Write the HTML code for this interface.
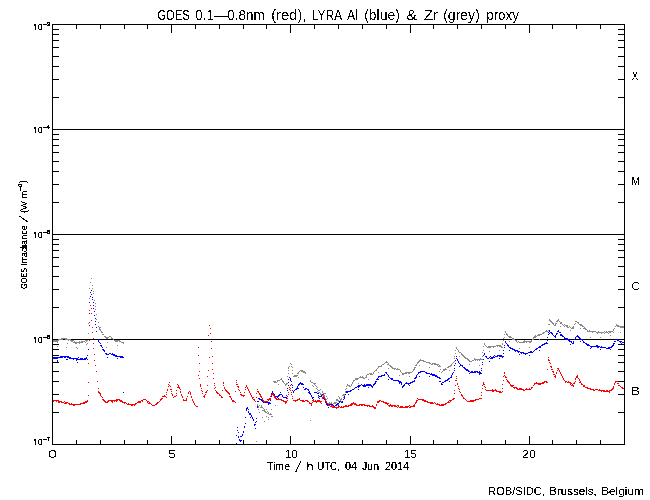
<!DOCTYPE html>
<html><head><meta charset="utf-8"><style>
html,body{margin:0;padding:0;background:#fff;}
svg{display:block;}
text{font-family:"Liberation Sans",sans-serif;fill:#000;}
</style></head><body>
<svg width="650" height="500" viewBox="0 0 650 500" shape-rendering="crispEdges">
<rect x="52" y="24" width="573" height="1" fill="#000"/>
<rect x="52" y="444" width="573" height="1" fill="#000"/>
<rect x="52" y="24" width="1" height="421" fill="#000"/>
<rect x="624" y="24" width="1" height="421" fill="#000"/>
<rect x="52" y="129" width="573" height="1" fill="#000"/>
<rect x="52" y="234" width="573" height="1" fill="#000"/>
<rect x="52" y="339" width="573" height="1" fill="#000"/>
<rect x="52" y="412" width="7" height="1" fill="#000"/>
<rect x="618" y="412" width="7" height="1" fill="#000"/>
<rect x="52" y="394" width="7" height="1" fill="#000"/>
<rect x="618" y="394" width="7" height="1" fill="#000"/>
<rect x="52" y="381" width="7" height="1" fill="#000"/>
<rect x="618" y="381" width="7" height="1" fill="#000"/>
<rect x="52" y="371" width="7" height="1" fill="#000"/>
<rect x="618" y="371" width="7" height="1" fill="#000"/>
<rect x="52" y="362" width="7" height="1" fill="#000"/>
<rect x="618" y="362" width="7" height="1" fill="#000"/>
<rect x="52" y="355" width="7" height="1" fill="#000"/>
<rect x="618" y="355" width="7" height="1" fill="#000"/>
<rect x="52" y="349" width="7" height="1" fill="#000"/>
<rect x="618" y="349" width="7" height="1" fill="#000"/>
<rect x="52" y="344" width="7" height="1" fill="#000"/>
<rect x="618" y="344" width="7" height="1" fill="#000"/>
<rect x="52" y="307" width="7" height="1" fill="#000"/>
<rect x="618" y="307" width="7" height="1" fill="#000"/>
<rect x="52" y="289" width="7" height="1" fill="#000"/>
<rect x="618" y="289" width="7" height="1" fill="#000"/>
<rect x="52" y="276" width="7" height="1" fill="#000"/>
<rect x="618" y="276" width="7" height="1" fill="#000"/>
<rect x="52" y="266" width="7" height="1" fill="#000"/>
<rect x="618" y="266" width="7" height="1" fill="#000"/>
<rect x="52" y="257" width="7" height="1" fill="#000"/>
<rect x="618" y="257" width="7" height="1" fill="#000"/>
<rect x="52" y="250" width="7" height="1" fill="#000"/>
<rect x="618" y="250" width="7" height="1" fill="#000"/>
<rect x="52" y="244" width="7" height="1" fill="#000"/>
<rect x="618" y="244" width="7" height="1" fill="#000"/>
<rect x="52" y="239" width="7" height="1" fill="#000"/>
<rect x="618" y="239" width="7" height="1" fill="#000"/>
<rect x="52" y="202" width="7" height="1" fill="#000"/>
<rect x="618" y="202" width="7" height="1" fill="#000"/>
<rect x="52" y="184" width="7" height="1" fill="#000"/>
<rect x="618" y="184" width="7" height="1" fill="#000"/>
<rect x="52" y="171" width="7" height="1" fill="#000"/>
<rect x="618" y="171" width="7" height="1" fill="#000"/>
<rect x="52" y="161" width="7" height="1" fill="#000"/>
<rect x="618" y="161" width="7" height="1" fill="#000"/>
<rect x="52" y="152" width="7" height="1" fill="#000"/>
<rect x="618" y="152" width="7" height="1" fill="#000"/>
<rect x="52" y="145" width="7" height="1" fill="#000"/>
<rect x="618" y="145" width="7" height="1" fill="#000"/>
<rect x="52" y="139" width="7" height="1" fill="#000"/>
<rect x="618" y="139" width="7" height="1" fill="#000"/>
<rect x="52" y="134" width="7" height="1" fill="#000"/>
<rect x="618" y="134" width="7" height="1" fill="#000"/>
<rect x="52" y="97" width="7" height="1" fill="#000"/>
<rect x="618" y="97" width="7" height="1" fill="#000"/>
<rect x="52" y="79" width="7" height="1" fill="#000"/>
<rect x="618" y="79" width="7" height="1" fill="#000"/>
<rect x="52" y="66" width="7" height="1" fill="#000"/>
<rect x="618" y="66" width="7" height="1" fill="#000"/>
<rect x="52" y="56" width="7" height="1" fill="#000"/>
<rect x="618" y="56" width="7" height="1" fill="#000"/>
<rect x="52" y="47" width="7" height="1" fill="#000"/>
<rect x="618" y="47" width="7" height="1" fill="#000"/>
<rect x="52" y="40" width="7" height="1" fill="#000"/>
<rect x="618" y="40" width="7" height="1" fill="#000"/>
<rect x="52" y="34" width="7" height="1" fill="#000"/>
<rect x="618" y="34" width="7" height="1" fill="#000"/>
<rect x="52" y="29" width="7" height="1" fill="#000"/>
<rect x="618" y="29" width="7" height="1" fill="#000"/>
<rect x="52" y="436" width="1" height="9" fill="#000"/>
<rect x="52" y="24" width="1" height="9" fill="#000"/>
<rect x="76" y="440" width="1" height="5" fill="#000"/>
<rect x="76" y="24" width="1" height="5" fill="#000"/>
<rect x="100" y="440" width="1" height="5" fill="#000"/>
<rect x="100" y="24" width="1" height="5" fill="#000"/>
<rect x="124" y="440" width="1" height="5" fill="#000"/>
<rect x="124" y="24" width="1" height="5" fill="#000"/>
<rect x="147" y="440" width="1" height="5" fill="#000"/>
<rect x="147" y="24" width="1" height="5" fill="#000"/>
<rect x="171" y="436" width="1" height="9" fill="#000"/>
<rect x="171" y="24" width="1" height="9" fill="#000"/>
<rect x="195" y="440" width="1" height="5" fill="#000"/>
<rect x="195" y="24" width="1" height="5" fill="#000"/>
<rect x="219" y="440" width="1" height="5" fill="#000"/>
<rect x="219" y="24" width="1" height="5" fill="#000"/>
<rect x="243" y="440" width="1" height="5" fill="#000"/>
<rect x="243" y="24" width="1" height="5" fill="#000"/>
<rect x="266" y="440" width="1" height="5" fill="#000"/>
<rect x="266" y="24" width="1" height="5" fill="#000"/>
<rect x="290" y="436" width="1" height="9" fill="#000"/>
<rect x="290" y="24" width="1" height="9" fill="#000"/>
<rect x="314" y="440" width="1" height="5" fill="#000"/>
<rect x="314" y="24" width="1" height="5" fill="#000"/>
<rect x="338" y="440" width="1" height="5" fill="#000"/>
<rect x="338" y="24" width="1" height="5" fill="#000"/>
<rect x="362" y="440" width="1" height="5" fill="#000"/>
<rect x="362" y="24" width="1" height="5" fill="#000"/>
<rect x="386" y="440" width="1" height="5" fill="#000"/>
<rect x="386" y="24" width="1" height="5" fill="#000"/>
<rect x="410" y="436" width="1" height="9" fill="#000"/>
<rect x="410" y="24" width="1" height="9" fill="#000"/>
<rect x="433" y="440" width="1" height="5" fill="#000"/>
<rect x="433" y="24" width="1" height="5" fill="#000"/>
<rect x="457" y="440" width="1" height="5" fill="#000"/>
<rect x="457" y="24" width="1" height="5" fill="#000"/>
<rect x="481" y="440" width="1" height="5" fill="#000"/>
<rect x="481" y="24" width="1" height="5" fill="#000"/>
<rect x="505" y="440" width="1" height="5" fill="#000"/>
<rect x="505" y="24" width="1" height="5" fill="#000"/>
<rect x="529" y="436" width="1" height="9" fill="#000"/>
<rect x="529" y="24" width="1" height="9" fill="#000"/>
<rect x="552" y="440" width="1" height="5" fill="#000"/>
<rect x="552" y="24" width="1" height="5" fill="#000"/>
<rect x="576" y="440" width="1" height="5" fill="#000"/>
<rect x="576" y="24" width="1" height="5" fill="#000"/>
<rect x="600" y="440" width="1" height="5" fill="#000"/>
<rect x="600" y="24" width="1" height="5" fill="#000"/>
<rect x="624" y="440" width="1" height="5" fill="#000"/>
<rect x="624" y="24" width="1" height="5" fill="#000"/>
<defs><filter id="crispA" x="0" y="0" width="650" height="500" filterUnits="userSpaceOnUse"><feComponentTransfer><feFuncA type="discrete" tableValues="0 1"/></feComponentTransfer></filter><filter id="crispB" x="0" y="0" width="650" height="500" filterUnits="userSpaceOnUse"><feComponentTransfer><feFuncA type="discrete" tableValues="0 0 1 1 1"/></feComponentTransfer></filter></defs>
<g filter="url(#crispA)"><text transform="translate(0,20) scale(1,1.31)" x="157.20" y="0" font-size="11" textLength="32.60" lengthAdjust="spacingAndGlyphs">GOES</text>
<text transform="translate(0,20) scale(1,1.31)" x="195.20" y="0" font-size="11" textLength="69.60" lengthAdjust="spacingAndGlyphs">0.1—0.8nm</text>
<text transform="translate(0,20) scale(1,1.31)" x="271.20" y="0" font-size="11" textLength="35.40" lengthAdjust="spacingAndGlyphs">(red),</text>
<text transform="translate(0,20) scale(1,1.31)" x="312.20" y="0" font-size="11" textLength="29.80" lengthAdjust="spacingAndGlyphs">LYRA</text>
<text transform="translate(0,20) scale(1,1.31)" x="347.00" y="0" font-size="11" textLength="10.80" lengthAdjust="spacingAndGlyphs">Al</text>
<text transform="translate(0,20) scale(1,1.31)" x="364.20" y="0" font-size="11" textLength="35.60" lengthAdjust="spacingAndGlyphs">(blue)</text>
<text transform="translate(0,20) scale(1,1.31)" x="406.20" y="0" font-size="11" textLength="10.80" lengthAdjust="spacingAndGlyphs">&amp;</text>
<text transform="translate(0,20) scale(1,1.31)" x="424.00" y="0" font-size="11" textLength="14.00" lengthAdjust="spacingAndGlyphs">Zr</text>
<text transform="translate(0,20) scale(1,1.31)" x="443.20" y="0" font-size="11" textLength="36.60" lengthAdjust="spacingAndGlyphs">(grey)</text>
<text transform="translate(0,20) scale(1,1.31)" x="486.20" y="0" font-size="11" textLength="32.80" lengthAdjust="spacingAndGlyphs">proxy</text>
<text x="48.20" y="458" font-size="10" textLength="8.60" lengthAdjust="spacingAndGlyphs">0</text>
<text x="168.20" y="458" font-size="10" textLength="7.60" lengthAdjust="spacingAndGlyphs">5</text>
<text x="285.20" y="458" font-size="10" textLength="12.60" lengthAdjust="spacingAndGlyphs">10</text>
<text x="404.20" y="458" font-size="10" textLength="12.60" lengthAdjust="spacingAndGlyphs">15</text>
<text x="522.20" y="458" font-size="10" textLength="13.60" lengthAdjust="spacingAndGlyphs">20</text>
<text x="632.00" y="80" font-size="11.5" textLength="6.00" lengthAdjust="spacingAndGlyphs">X</text>
<text x="631.20" y="185" font-size="11.5" textLength="8.60" lengthAdjust="spacingAndGlyphs">M</text>
<text x="631.20" y="290" font-size="11.5" textLength="8.60" lengthAdjust="spacingAndGlyphs">C</text>
<text x="631.20" y="395" font-size="11.5" textLength="8.60" lengthAdjust="spacingAndGlyphs">B</text></g>
<g filter="url(#crispB)"><text x="267.00" y="470" font-size="10" textLength="23.00" lengthAdjust="spacingAndGlyphs">Time</text>
<text x="306.20" y="470" font-size="10" textLength="7.60" lengthAdjust="spacingAndGlyphs">h</text>
<text x="317.20" y="470" font-size="10" textLength="22.60" lengthAdjust="spacingAndGlyphs">UTC,</text>
<text x="345.00" y="470" font-size="10" textLength="12.00" lengthAdjust="spacingAndGlyphs">04</text>
<text x="362.00" y="470" font-size="10" textLength="17.00" lengthAdjust="spacingAndGlyphs">Jun</text>
<text x="385.00" y="470" font-size="10" textLength="24.00" lengthAdjust="spacingAndGlyphs">2014</text>
<text x="488.20" y="495" font-size="10.5" textLength="56.60" lengthAdjust="spacingAndGlyphs">ROB/SIDC,</text>
<text x="549.20" y="495" font-size="10.5" textLength="47.60" lengthAdjust="spacingAndGlyphs">Brussels,</text>
<text x="601.20" y="495" font-size="10.5" textLength="42.60" lengthAdjust="spacingAndGlyphs">Belgium</text>
<text transform="translate(27,289.00) rotate(-90)" x="0" y="0" font-size="9.5" textLength="21.00" lengthAdjust="spacingAndGlyphs">GOES</text>
<text transform="translate(27,265.80) rotate(-90)" x="0" y="0" font-size="9.5" textLength="40.60" lengthAdjust="spacingAndGlyphs">Irradiance</text>
<text transform="translate(27,213.00) rotate(-90)" x="0" y="0" font-size="9.5" textLength="11.80" lengthAdjust="spacingAndGlyphs">(W</text>
<text transform="translate(27,198.00) rotate(-90)" x="0" y="0" font-size="9.5" textLength="7.00" lengthAdjust="spacingAndGlyphs">m</text><line x1="295.5" y1="472.5" x2="300.8" y2="461" stroke="#000" stroke-width="1"/>
<line x1="19.5" y1="216" x2="27.5" y2="221.8" stroke="#000" stroke-width="1"/>
</g>
<path fill="#000" shape-rendering="crispEdges" d="M34 24h1v1h-1zM35 24h1v1h-1zM39 24h1v1h-1zM40 24h1v1h-1zM41 24h1v1h-1zM34 25h1v1h-1zM35 25h1v1h-1zM38 25h1v1h-1zM41 25h1v1h-1zM35 26h1v1h-1zM38 26h1v1h-1zM41 26h1v1h-1zM35 27h1v1h-1zM38 27h1v1h-1zM41 27h1v1h-1zM35 28h1v1h-1zM38 28h1v1h-1zM41 28h1v1h-1zM35 29h1v1h-1zM39 29h1v1h-1zM40 29h1v1h-1zM41 29h1v1h-1zM43 24h4v1h-4zM47 22h1v1h-1zM48 22h1v1h-1zM49 22h1v1h-1zM47 23h1v1h-1zM49 23h1v1h-1zM48 24h1v1h-1zM49 24h1v1h-1zM47 25h1v1h-1zM48 25h1v1h-1zM49 25h1v1h-1zM34 127h1v1h-1zM35 127h1v1h-1zM39 127h1v1h-1zM40 127h1v1h-1zM41 127h1v1h-1zM34 128h1v1h-1zM35 128h1v1h-1zM38 128h1v1h-1zM41 128h1v1h-1zM35 129h1v1h-1zM38 129h1v1h-1zM41 129h1v1h-1zM35 130h1v1h-1zM38 130h1v1h-1zM41 130h1v1h-1zM35 131h1v1h-1zM38 131h1v1h-1zM41 131h1v1h-1zM35 132h1v1h-1zM39 132h1v1h-1zM40 132h1v1h-1zM41 132h1v1h-1zM43 127h4v1h-4zM48 125h1v1h-1zM47 126h1v1h-1zM48 126h1v1h-1zM47 127h1v1h-1zM48 127h1v1h-1zM49 127h1v1h-1zM48 128h1v1h-1zM34 232h1v1h-1zM35 232h1v1h-1zM39 232h1v1h-1zM40 232h1v1h-1zM41 232h1v1h-1zM34 233h1v1h-1zM35 233h1v1h-1zM38 233h1v1h-1zM41 233h1v1h-1zM35 234h1v1h-1zM38 234h1v1h-1zM41 234h1v1h-1zM35 235h1v1h-1zM38 235h1v1h-1zM41 235h1v1h-1zM35 236h1v1h-1zM38 236h1v1h-1zM41 236h1v1h-1zM35 237h1v1h-1zM39 237h1v1h-1zM40 237h1v1h-1zM41 237h1v1h-1zM43 232h4v1h-4zM47 230h1v1h-1zM48 230h1v1h-1zM49 230h1v1h-1zM47 231h1v1h-1zM48 231h1v1h-1zM49 231h1v1h-1zM47 232h1v1h-1zM49 232h1v1h-1zM47 233h1v1h-1zM48 233h1v1h-1zM49 233h1v1h-1zM34 337h1v1h-1zM35 337h1v1h-1zM39 337h1v1h-1zM40 337h1v1h-1zM41 337h1v1h-1zM34 338h1v1h-1zM35 338h1v1h-1zM38 338h1v1h-1zM41 338h1v1h-1zM35 339h1v1h-1zM38 339h1v1h-1zM41 339h1v1h-1zM35 340h1v1h-1zM38 340h1v1h-1zM41 340h1v1h-1zM35 341h1v1h-1zM38 341h1v1h-1zM41 341h1v1h-1zM35 342h1v1h-1zM39 342h1v1h-1zM40 342h1v1h-1zM41 342h1v1h-1zM43 337h4v1h-4zM47 335h1v1h-1zM48 335h1v1h-1zM49 335h1v1h-1zM47 336h1v1h-1zM48 336h1v1h-1zM49 336h1v1h-1zM47 337h1v1h-1zM49 337h1v1h-1zM47 338h1v1h-1zM48 338h1v1h-1zM49 338h1v1h-1zM34 439h1v1h-1zM35 439h1v1h-1zM39 439h1v1h-1zM40 439h1v1h-1zM41 439h1v1h-1zM34 440h1v1h-1zM35 440h1v1h-1zM38 440h1v1h-1zM41 440h1v1h-1zM35 441h1v1h-1zM38 441h1v1h-1zM41 441h1v1h-1zM35 442h1v1h-1zM38 442h1v1h-1zM41 442h1v1h-1zM35 443h1v1h-1zM38 443h1v1h-1zM41 443h1v1h-1zM35 444h1v1h-1zM39 444h1v1h-1zM40 444h1v1h-1zM41 444h1v1h-1zM43 439h4v1h-4zM47 437h1v1h-1zM48 437h1v1h-1zM49 437h1v1h-1zM48 438h1v1h-1zM48 439h1v1h-1zM48 440h1v1h-1zM19 182h1v1h-1zM20 181h1v1h-1zM21 181h1v1h-1zM22 181h1v1h-1zM23 181h1v1h-1zM24 181h1v1h-1zM25 181h1v1h-1zM26 181h1v1h-1zM27 182h1v1h-1zM18 184h1v1h-1zM19 184h1v1h-1zM20 184h1v1h-1zM21 184h1v1h-1zM18 185h1v1h-1zM21 185h1v1h-1zM19 186h1v1h-1zM20 186h1v1h-1zM21 186h1v1h-1zM20 187h1v1h-1zM20 188h1v1h-1zM20 189h1v1h-1zM20 190h1v1h-1z"/>
<g shape-rendering="crispEdges" stroke="none">
<path fill="#888" d="M53 340h1v1h-1zM53 341h1v1h-1zM54 340h1v1h-1zM54 341h1v1h-1zM55 340h1v1h-1zM55 341h1v1h-1zM56 340h1v1h-1zM56 341h1v1h-1zM57 340h1v1h-1zM57 341h1v1h-1zM57 342h1v1h-1zM57 346h1v1h-1zM58 339h1v1h-1zM58 340h1v1h-1zM59 339h1v1h-1zM60 339h1v1h-1zM61 338h1v1h-1zM61 339h1v1h-1zM62 338h1v1h-1zM62 339h1v1h-1zM63 338h1v1h-1zM64 338h1v1h-1zM65 338h1v1h-1zM65 339h1v1h-1zM66 338h1v1h-1zM66 339h1v1h-1zM66 347h1v1h-1zM67 339h1v1h-1zM67 343h1v1h-1zM68 339h1v1h-1zM68 340h1v1h-1zM69 339h1v1h-1zM70 339h1v1h-1zM70 340h1v1h-1zM71 340h1v1h-1zM71 341h1v1h-1zM72 340h1v1h-1zM72 341h1v1h-1zM73 340h1v1h-1zM73 342h1v1h-1zM74 341h1v1h-1zM74 342h1v1h-1zM75 342h1v1h-1zM75 343h1v1h-1zM76 342h1v1h-1zM76 343h1v1h-1zM76 347h1v1h-1zM77 342h1v1h-1zM77 348h1v1h-1zM78 342h1v1h-1zM79 341h1v1h-1zM79 342h1v1h-1zM79 343h1v1h-1zM80 342h1v1h-1zM81 341h1v1h-1zM81 342h1v1h-1zM82 341h1v1h-1zM82 342h1v1h-1zM83 341h1v1h-1zM84 341h1v1h-1zM85 340h1v1h-1zM85 342h1v1h-1zM86 340h1v1h-1zM86 341h1v1h-1zM86 344h1v1h-1zM87 340h1v1h-1zM87 343h1v1h-1zM88 323h1v1h-1zM88 333h1v1h-1zM89 288h1v1h-1zM89 298h1v1h-1zM90 282h1v1h-1zM91 278h1v1h-1zM92 285h1v1h-1zM92 288h1v1h-1zM93 291h1v1h-1zM93 293h1v1h-1zM94 300h1v1h-1zM95 303h1v1h-1zM95 306h1v1h-1zM95 309h1v1h-1zM96 314h1v1h-1zM96 319h1v1h-1zM98 322h1v1h-1zM98 326h1v1h-1zM99 327h1v1h-1zM99 328h1v1h-1zM99 329h1v1h-1zM100 327h1v1h-1zM100 329h1v1h-1zM100 330h1v1h-1zM101 331h1v1h-1zM101 332h1v1h-1zM102 332h1v1h-1zM102 334h1v1h-1zM103 334h1v1h-1zM104 336h1v1h-1zM105 336h1v1h-1zM105 337h1v1h-1zM106 337h1v1h-1zM106 338h1v1h-1zM106 347h1v1h-1zM107 337h1v1h-1zM107 338h1v1h-1zM107 342h1v1h-1zM108 337h1v1h-1zM109 336h1v1h-1zM110 336h1v1h-1zM111 337h1v1h-1zM111 338h1v1h-1zM112 338h1v1h-1zM113 339h1v1h-1zM114 340h1v1h-1zM115 340h1v1h-1zM115 341h1v1h-1zM116 340h1v1h-1zM116 341h1v1h-1zM117 340h1v1h-1zM117 341h1v1h-1zM117 345h1v1h-1zM118 340h1v1h-1zM119 340h1v1h-1zM119 341h1v1h-1zM120 341h1v1h-1zM121 342h1v1h-1zM122 342h1v1h-1zM123 342h1v1h-1zM123 343h1v1h-1zM256 441h1v1h-1zM257 404h1v1h-1zM257 405h1v1h-1zM257 406h1v1h-1zM258 406h1v1h-1zM258 407h1v1h-1zM258 409h1v1h-1zM259 405h1v1h-1zM259 412h1v1h-1zM260 407h1v1h-1zM261 405h1v1h-1zM261 406h1v1h-1zM261 407h1v1h-1zM262 407h1v1h-1zM262 410h1v1h-1zM262 417h1v1h-1zM263 408h1v1h-1zM263 410h1v1h-1zM264 409h1v1h-1zM264 410h1v1h-1zM264 411h1v1h-1zM264 421h1v1h-1zM265 411h1v1h-1zM265 412h1v1h-1zM266 409h1v1h-1zM266 412h1v1h-1zM266 416h1v1h-1zM267 411h1v1h-1zM267 413h1v1h-1zM268 412h1v1h-1zM268 413h1v1h-1zM268 417h1v1h-1zM268 419h1v1h-1zM269 414h1v1h-1zM270 413h1v1h-1zM270 414h1v1h-1zM271 409h1v1h-1zM271 414h1v1h-1zM271 416h1v1h-1zM272 416h1v1h-1zM273 381h1v1h-1zM274 381h1v1h-1zM274 382h1v1h-1zM275 381h1v1h-1zM275 382h1v1h-1zM275 405h1v1h-1zM276 382h1v1h-1zM277 380h1v1h-1zM277 381h1v1h-1zM278 380h1v1h-1zM278 384h1v1h-1zM279 380h1v1h-1zM280 379h1v1h-1zM281 378h1v1h-1zM281 379h1v1h-1zM282 380h1v1h-1zM282 381h1v1h-1zM283 381h1v1h-1zM283 382h1v1h-1zM284 383h1v1h-1zM285 384h1v1h-1zM285 385h1v1h-1zM286 383h1v1h-1zM286 384h1v1h-1zM287 376h1v1h-1zM287 383h1v1h-1zM288 367h1v1h-1zM288 368h1v1h-1zM288 370h1v1h-1zM288 373h1v1h-1zM289 366h1v1h-1zM290 363h1v1h-1zM291 364h1v1h-1zM291 366h1v1h-1zM292 367h1v1h-1zM292 370h1v1h-1zM292 373h1v1h-1zM293 376h1v1h-1zM294 375h1v1h-1zM294 376h1v1h-1zM295 375h1v1h-1zM295 376h1v1h-1zM296 375h1v1h-1zM296 376h1v1h-1zM297 373h1v1h-1zM297 375h1v1h-1zM298 372h1v1h-1zM298 373h1v1h-1zM298 377h1v1h-1zM299 371h1v1h-1zM300 370h1v1h-1zM301 370h1v1h-1zM301 371h1v1h-1zM302 370h1v1h-1zM302 371h1v1h-1zM303 371h1v1h-1zM303 372h1v1h-1zM304 371h1v1h-1zM304 372h1v1h-1zM305 372h1v1h-1zM305 373h1v1h-1zM310 380h1v1h-1zM310 381h1v1h-1zM310 420h1v1h-1zM311 382h1v1h-1zM312 382h1v1h-1zM312 385h1v1h-1zM313 383h1v1h-1zM313 386h1v1h-1zM314 383h1v1h-1zM314 384h1v1h-1zM315 383h1v1h-1zM315 385h1v1h-1zM316 386h1v1h-1zM316 388h1v1h-1zM317 387h1v1h-1zM317 389h1v1h-1zM317 391h1v1h-1zM318 390h1v1h-1zM318 392h1v1h-1zM318 396h1v1h-1zM319 390h1v1h-1zM319 392h1v1h-1zM320 389h1v1h-1zM320 393h1v1h-1zM320 394h1v1h-1zM321 394h1v1h-1zM322 391h1v1h-1zM322 392h1v1h-1zM322 395h1v1h-1zM323 393h1v1h-1zM323 395h1v1h-1zM324 393h1v1h-1zM324 395h1v1h-1zM324 396h1v1h-1zM325 393h1v1h-1zM325 398h1v1h-1zM326 396h1v1h-1zM326 399h1v1h-1zM327 398h1v1h-1zM327 403h1v1h-1zM328 403h1v1h-1zM328 404h1v1h-1zM328 407h1v1h-1zM329 402h1v1h-1zM329 403h1v1h-1zM330 403h1v1h-1zM331 402h1v1h-1zM331 403h1v1h-1zM331 406h1v1h-1zM332 404h1v1h-1zM332 406h1v1h-1zM333 403h1v1h-1zM333 406h1v1h-1zM334 402h1v1h-1zM334 403h1v1h-1zM334 406h1v1h-1zM335 402h1v1h-1zM335 403h1v1h-1zM336 399h1v1h-1zM336 400h1v1h-1zM336 402h1v1h-1zM337 399h1v1h-1zM337 400h1v1h-1zM338 396h1v1h-1zM338 400h1v1h-1zM338 401h1v1h-1zM338 404h1v1h-1zM339 397h1v1h-1zM339 398h1v1h-1zM340 399h1v1h-1zM340 400h1v1h-1zM341 398h1v1h-1zM341 399h1v1h-1zM341 401h1v1h-1zM342 395h1v1h-1zM343 394h1v1h-1zM343 395h1v1h-1zM343 397h1v1h-1zM344 394h1v1h-1zM344 395h1v1h-1zM345 389h1v1h-1zM345 391h1v1h-1zM345 392h1v1h-1zM346 386h1v1h-1zM346 388h1v1h-1zM347 384h1v1h-1zM347 385h1v1h-1zM348 385h1v1h-1zM348 391h1v1h-1zM349 385h1v1h-1zM349 386h1v1h-1zM350 386h1v1h-1zM351 384h1v1h-1zM351 385h1v1h-1zM352 382h1v1h-1zM352 383h1v1h-1zM353 380h1v1h-1zM353 381h1v1h-1zM354 380h1v1h-1zM355 378h1v1h-1zM355 379h1v1h-1zM356 378h1v1h-1zM356 379h1v1h-1zM357 378h1v1h-1zM357 379h1v1h-1zM358 378h1v1h-1zM358 383h1v1h-1zM359 377h1v1h-1zM360 376h1v1h-1zM360 377h1v1h-1zM361 377h1v1h-1zM362 376h1v1h-1zM362 377h1v1h-1zM363 377h1v1h-1zM363 378h1v1h-1zM364 378h1v1h-1zM365 377h1v1h-1zM366 375h1v1h-1zM366 376h1v1h-1zM366 377h1v1h-1zM367 374h1v1h-1zM368 374h1v1h-1zM368 379h1v1h-1zM369 373h1v1h-1zM370 373h1v1h-1zM370 374h1v1h-1zM371 373h1v1h-1zM371 374h1v1h-1zM372 374h1v1h-1zM373 372h1v1h-1zM373 373h1v1h-1zM374 371h1v1h-1zM375 370h1v1h-1zM376 369h1v1h-1zM376 370h1v1h-1zM377 368h1v1h-1zM378 366h1v1h-1zM378 367h1v1h-1zM378 372h1v1h-1zM379 366h1v1h-1zM380 366h1v1h-1zM381 365h1v1h-1zM381 366h1v1h-1zM382 364h1v1h-1zM383 364h1v1h-1zM384 363h1v1h-1zM385 362h1v1h-1zM386 361h1v1h-1zM386 362h1v1h-1zM387 362h1v1h-1zM387 364h1v1h-1zM388 363h1v1h-1zM388 364h1v1h-1zM388 368h1v1h-1zM389 365h1v1h-1zM390 365h1v1h-1zM390 366h1v1h-1zM391 366h1v1h-1zM391 367h1v1h-1zM392 367h1v1h-1zM392 368h1v1h-1zM393 368h1v1h-1zM394 368h1v1h-1zM394 369h1v1h-1zM395 368h1v1h-1zM396 369h1v1h-1zM397 368h1v1h-1zM397 369h1v1h-1zM398 369h1v1h-1zM399 369h1v1h-1zM399 375h1v1h-1zM400 370h1v1h-1zM400 371h1v1h-1zM401 372h1v1h-1zM402 373h1v1h-1zM402 374h1v1h-1zM403 373h1v1h-1zM403 374h1v1h-1zM404 373h1v1h-1zM405 372h1v1h-1zM405 373h1v1h-1zM406 372h1v1h-1zM406 373h1v1h-1zM407 372h1v1h-1zM408 372h1v1h-1zM408 373h1v1h-1zM409 372h1v1h-1zM409 373h1v1h-1zM409 376h1v1h-1zM410 372h1v1h-1zM411 372h1v1h-1zM412 371h1v1h-1zM413 369h1v1h-1zM413 370h1v1h-1zM414 367h1v1h-1zM414 368h1v1h-1zM414 369h1v1h-1zM415 365h1v1h-1zM415 367h1v1h-1zM416 364h1v1h-1zM416 365h1v1h-1zM417 362h1v1h-1zM417 363h1v1h-1zM418 361h1v1h-1zM418 362h1v1h-1zM419 360h1v1h-1zM419 361h1v1h-1zM419 365h1v1h-1zM420 359h1v1h-1zM420 360h1v1h-1zM421 360h1v1h-1zM422 360h1v1h-1zM423 360h1v1h-1zM423 361h1v1h-1zM424 361h1v1h-1zM425 361h1v1h-1zM426 362h1v1h-1zM427 362h1v1h-1zM428 362h1v1h-1zM429 362h1v1h-1zM429 363h1v1h-1zM429 367h1v1h-1zM430 363h1v1h-1zM431 364h1v1h-1zM432 363h1v1h-1zM432 364h1v1h-1zM433 363h1v1h-1zM434 363h1v1h-1zM434 364h1v1h-1zM435 363h1v1h-1zM435 364h1v1h-1zM436 364h1v1h-1zM437 364h1v1h-1zM437 365h1v1h-1zM438 364h1v1h-1zM438 366h1v1h-1zM439 365h1v1h-1zM439 366h1v1h-1zM439 371h1v1h-1zM440 366h1v1h-1zM440 369h1v1h-1zM441 372h1v1h-1zM442 371h1v1h-1zM443 369h1v1h-1zM443 370h1v1h-1zM444 369h1v1h-1zM444 370h1v1h-1zM445 368h1v1h-1zM445 369h1v1h-1zM446 369h1v1h-1zM447 367h1v1h-1zM448 366h1v1h-1zM448 367h1v1h-1zM449 366h1v1h-1zM449 370h1v1h-1zM450 365h1v1h-1zM450 366h1v1h-1zM451 364h1v1h-1zM451 365h1v1h-1zM452 363h1v1h-1zM453 362h1v1h-1zM454 356h1v1h-1zM454 358h1v1h-1zM454 361h1v1h-1zM455 350h1v1h-1zM455 353h1v1h-1zM456 347h1v1h-1zM456 348h1v1h-1zM457 349h1v1h-1zM458 350h1v1h-1zM458 351h1v1h-1zM459 352h1v1h-1zM459 356h1v1h-1zM460 352h1v1h-1zM461 353h1v1h-1zM461 354h1v1h-1zM462 354h1v1h-1zM462 355h1v1h-1zM463 355h1v1h-1zM463 356h1v1h-1zM464 356h1v1h-1zM464 357h1v1h-1zM465 357h1v1h-1zM465 358h1v1h-1zM466 358h1v1h-1zM467 358h1v1h-1zM467 359h1v1h-1zM468 359h1v1h-1zM468 360h1v1h-1zM469 360h1v1h-1zM469 361h1v1h-1zM469 364h1v1h-1zM470 361h1v1h-1zM471 361h1v1h-1zM472 360h1v1h-1zM473 360h1v1h-1zM474 358h1v1h-1zM474 359h1v1h-1zM475 359h1v1h-1zM475 360h1v1h-1zM476 359h1v1h-1zM477 359h1v1h-1zM477 360h1v1h-1zM478 359h1v1h-1zM479 359h1v1h-1zM479 360h1v1h-1zM479 365h1v1h-1zM480 358h1v1h-1zM480 359h1v1h-1zM481 359h1v1h-1zM482 352h1v1h-1zM482 356h1v1h-1zM482 359h1v1h-1zM483 346h1v1h-1zM483 350h1v1h-1zM484 343h1v1h-1zM484 344h1v1h-1zM485 345h1v1h-1zM486 346h1v1h-1zM487 347h1v1h-1zM488 346h1v1h-1zM488 347h1v1h-1zM489 346h1v1h-1zM489 347h1v1h-1zM489 351h1v1h-1zM490 346h1v1h-1zM490 347h1v1h-1zM491 346h1v1h-1zM492 346h1v1h-1zM493 346h1v1h-1zM493 347h1v1h-1zM494 346h1v1h-1zM495 346h1v1h-1zM496 345h1v1h-1zM497 345h1v1h-1zM497 346h1v1h-1zM498 345h1v1h-1zM499 345h1v1h-1zM499 346h1v1h-1zM499 350h1v1h-1zM500 345h1v1h-1zM500 346h1v1h-1zM501 346h1v1h-1zM501 347h1v1h-1zM502 343h1v1h-1zM502 344h1v1h-1zM502 347h1v1h-1zM503 338h1v1h-1zM503 340h1v1h-1zM504 334h1v1h-1zM504 337h1v1h-1zM505 331h1v1h-1zM505 332h1v1h-1zM506 333h1v1h-1zM506 334h1v1h-1zM507 334h1v1h-1zM507 335h1v1h-1zM508 336h1v1h-1zM509 336h1v1h-1zM509 337h1v1h-1zM509 341h1v1h-1zM510 336h1v1h-1zM510 337h1v1h-1zM511 337h1v1h-1zM512 338h1v1h-1zM512 339h1v1h-1zM513 338h1v1h-1zM513 339h1v1h-1zM514 339h1v1h-1zM515 340h1v1h-1zM516 340h1v1h-1zM516 341h1v1h-1zM517 342h1v1h-1zM518 341h1v1h-1zM519 342h1v1h-1zM519 348h1v1h-1zM520 342h1v1h-1zM521 342h1v1h-1zM522 342h1v1h-1zM523 341h1v1h-1zM523 342h1v1h-1zM524 340h1v1h-1zM524 341h1v1h-1zM524 342h1v1h-1zM525 341h1v1h-1zM526 341h1v1h-1zM526 342h1v1h-1zM527 341h1v1h-1zM528 341h1v1h-1zM529 341h1v1h-1zM529 342h1v1h-1zM529 347h1v1h-1zM530 341h1v1h-1zM530 342h1v1h-1zM531 340h1v1h-1zM531 341h1v1h-1zM532 339h1v1h-1zM533 337h1v1h-1zM533 338h1v1h-1zM533 339h1v1h-1zM534 336h1v1h-1zM534 337h1v1h-1zM535 335h1v1h-1zM535 336h1v1h-1zM535 337h1v1h-1zM536 336h1v1h-1zM537 335h1v1h-1zM538 334h1v1h-1zM538 335h1v1h-1zM539 334h1v1h-1zM539 335h1v1h-1zM539 339h1v1h-1zM540 334h1v1h-1zM541 334h1v1h-1zM542 333h1v1h-1zM543 332h1v1h-1zM543 333h1v1h-1zM544 332h1v1h-1zM545 331h1v1h-1zM546 330h1v1h-1zM546 331h1v1h-1zM547 331h1v1h-1zM548 324h1v1h-1zM548 330h1v1h-1zM549 319h1v1h-1zM549 320h1v1h-1zM549 324h1v1h-1zM550 320h1v1h-1zM550 321h1v1h-1zM551 321h1v1h-1zM551 322h1v1h-1zM552 322h1v1h-1zM552 323h1v1h-1zM553 323h1v1h-1zM553 324h1v1h-1zM554 325h1v1h-1zM555 323h1v1h-1zM555 324h1v1h-1zM555 325h1v1h-1zM556 321h1v1h-1zM556 323h1v1h-1zM557 320h1v1h-1zM557 321h1v1h-1zM558 319h1v1h-1zM558 320h1v1h-1zM559 321h1v1h-1zM560 322h1v1h-1zM560 323h1v1h-1zM560 326h1v1h-1zM561 322h1v1h-1zM561 323h1v1h-1zM562 324h1v1h-1zM563 325h1v1h-1zM564 324h1v1h-1zM564 326h1v1h-1zM565 325h1v1h-1zM566 325h1v1h-1zM566 326h1v1h-1zM567 325h1v1h-1zM567 326h1v1h-1zM567 327h1v1h-1zM568 327h1v1h-1zM569 326h1v1h-1zM570 327h1v1h-1zM570 330h1v1h-1zM571 328h1v1h-1zM572 327h1v1h-1zM572 328h1v1h-1zM573 326h1v1h-1zM573 327h1v1h-1zM573 328h1v1h-1zM574 324h1v1h-1zM575 321h1v1h-1zM575 323h1v1h-1zM576 321h1v1h-1zM577 322h1v1h-1zM578 322h1v1h-1zM578 323h1v1h-1zM579 324h1v1h-1zM580 324h1v1h-1zM580 325h1v1h-1zM580 328h1v1h-1zM581 324h1v1h-1zM581 325h1v1h-1zM582 325h1v1h-1zM582 326h1v1h-1zM583 326h1v1h-1zM583 328h1v1h-1zM584 327h1v1h-1zM584 328h1v1h-1zM585 328h1v1h-1zM585 329h1v1h-1zM586 329h1v1h-1zM587 330h1v1h-1zM587 331h1v1h-1zM588 331h1v1h-1zM589 330h1v1h-1zM589 331h1v1h-1zM590 331h1v1h-1zM590 337h1v1h-1zM591 331h1v1h-1zM592 331h1v1h-1zM592 332h1v1h-1zM593 331h1v1h-1zM594 331h1v1h-1zM595 331h1v1h-1zM596 332h1v1h-1zM597 332h1v1h-1zM597 333h1v1h-1zM598 331h1v1h-1zM598 332h1v1h-1zM599 332h1v1h-1zM600 332h1v1h-1zM600 337h1v1h-1zM601 332h1v1h-1zM601 333h1v1h-1zM602 332h1v1h-1zM603 332h1v1h-1zM604 331h1v1h-1zM604 333h1v1h-1zM605 332h1v1h-1zM606 331h1v1h-1zM606 332h1v1h-1zM607 332h1v1h-1zM608 331h1v1h-1zM608 333h1v1h-1zM609 331h1v1h-1zM609 332h1v1h-1zM610 331h1v1h-1zM610 332h1v1h-1zM610 335h1v1h-1zM611 331h1v1h-1zM612 331h1v1h-1zM613 329h1v1h-1zM613 330h1v1h-1zM613 332h1v1h-1zM614 328h1v1h-1zM615 326h1v1h-1zM616 324h1v1h-1zM616 325h1v1h-1zM617 325h1v1h-1zM617 326h1v1h-1zM618 325h1v1h-1zM618 326h1v1h-1zM619 326h1v1h-1zM620 326h1v1h-1zM620 327h1v1h-1zM620 332h1v1h-1zM621 326h1v1h-1zM621 327h1v1h-1zM622 326h1v1h-1zM622 327h1v1h-1zM623 326h1v1h-1zM623 327h1v1h-1z"/>
<path fill="#00f" d="M53 357h1v1h-1zM53 358h1v1h-1zM54 357h1v1h-1zM54 358h1v1h-1zM55 357h1v1h-1zM55 358h1v1h-1zM56 357h1v1h-1zM56 358h1v1h-1zM57 357h1v1h-1zM57 358h1v1h-1zM57 360h1v1h-1zM57 361h1v1h-1zM58 357h1v1h-1zM59 357h1v1h-1zM60 356h1v1h-1zM60 357h1v1h-1zM61 356h1v1h-1zM61 357h1v1h-1zM62 356h1v1h-1zM62 357h1v1h-1zM63 356h1v1h-1zM64 356h1v1h-1zM64 357h1v1h-1zM65 356h1v1h-1zM65 357h1v1h-1zM66 356h1v1h-1zM66 359h1v1h-1zM67 356h1v1h-1zM67 357h1v1h-1zM67 359h1v1h-1zM68 356h1v1h-1zM68 357h1v1h-1zM69 357h1v1h-1zM69 358h1v1h-1zM70 357h1v1h-1zM70 358h1v1h-1zM71 358h1v1h-1zM72 358h1v1h-1zM73 358h1v1h-1zM73 359h1v1h-1zM74 358h1v1h-1zM75 358h1v1h-1zM76 358h1v1h-1zM76 359h1v1h-1zM76 360h1v1h-1zM77 358h1v1h-1zM77 359h1v1h-1zM77 362h1v1h-1zM78 357h1v1h-1zM78 359h1v1h-1zM79 359h1v1h-1zM80 358h1v1h-1zM80 359h1v1h-1zM81 358h1v1h-1zM81 359h1v1h-1zM82 358h1v1h-1zM82 359h1v1h-1zM83 359h1v1h-1zM84 358h1v1h-1zM84 359h1v1h-1zM85 358h1v1h-1zM85 359h1v1h-1zM86 357h1v1h-1zM86 358h1v1h-1zM87 355h1v1h-1zM87 359h1v1h-1zM88 349h1v1h-1zM89 302h1v1h-1zM89 313h1v1h-1zM89 325h1v1h-1zM90 292h1v1h-1zM90 296h1v1h-1zM91 290h1v1h-1zM91 294h1v1h-1zM92 297h1v1h-1zM92 299h1v1h-1zM93 302h1v1h-1zM93 305h1v1h-1zM93 308h1v1h-1zM94 311h1v1h-1zM94 315h1v1h-1zM95 318h1v1h-1zM95 321h1v1h-1zM95 324h1v1h-1zM96 327h1v1h-1zM96 331h1v1h-1zM98 339h1v1h-1zM98 340h1v1h-1zM98 341h1v1h-1zM99 342h1v1h-1zM100 343h1v1h-1zM100 345h1v1h-1zM101 345h1v1h-1zM101 346h1v1h-1zM102 347h1v1h-1zM102 349h1v1h-1zM103 349h1v1h-1zM103 350h1v1h-1zM104 350h1v1h-1zM104 351h1v1h-1zM105 353h1v1h-1zM106 353h1v1h-1zM106 354h1v1h-1zM107 354h1v1h-1zM107 357h1v1h-1zM108 354h1v1h-1zM109 353h1v1h-1zM110 353h1v1h-1zM111 354h1v1h-1zM112 353h1v1h-1zM112 354h1v1h-1zM113 354h1v1h-1zM113 355h1v1h-1zM114 354h1v1h-1zM114 355h1v1h-1zM115 355h1v1h-1zM115 356h1v1h-1zM116 355h1v1h-1zM116 356h1v1h-1zM117 356h1v1h-1zM117 358h1v1h-1zM118 356h1v1h-1zM119 356h1v1h-1zM120 356h1v1h-1zM120 357h1v1h-1zM121 356h1v1h-1zM121 357h1v1h-1zM122 356h1v1h-1zM122 357h1v1h-1zM123 357h1v1h-1zM123 392h1v1h-1zM236 435h1v1h-1zM236 443h1v1h-1zM237 427h1v1h-1zM237 430h1v1h-1zM238 432h1v1h-1zM238 436h1v1h-1zM238 437h1v1h-1zM239 439h1v1h-1zM239 440h1v1h-1zM240 436h1v1h-1zM240 440h1v1h-1zM240 441h1v1h-1zM241 436h1v1h-1zM241 440h1v1h-1zM242 434h1v1h-1zM242 435h1v1h-1zM243 431h1v1h-1zM243 432h1v1h-1zM244 426h1v1h-1zM244 427h1v1h-1zM245 417h1v1h-1zM245 423h1v1h-1zM246 408h1v1h-1zM246 409h1v1h-1zM246 410h1v1h-1zM247 407h1v1h-1zM247 408h1v1h-1zM248 409h1v1h-1zM248 411h1v1h-1zM248 412h1v1h-1zM249 413h1v1h-1zM249 414h1v1h-1zM250 413h1v1h-1zM250 414h1v1h-1zM250 417h1v1h-1zM251 415h1v1h-1zM251 416h1v1h-1zM252 417h1v1h-1zM252 418h1v1h-1zM253 419h1v1h-1zM253 420h1v1h-1zM254 424h1v1h-1zM254 425h1v1h-1zM255 422h1v1h-1zM255 424h1v1h-1zM255 428h1v1h-1zM256 418h1v1h-1zM256 421h1v1h-1zM257 401h1v1h-1zM257 406h1v1h-1zM257 407h1v1h-1zM258 398h1v1h-1zM258 401h1v1h-1zM259 398h1v1h-1zM259 399h1v1h-1zM260 399h1v1h-1zM261 399h1v1h-1zM261 400h1v1h-1zM262 400h1v1h-1zM262 401h1v1h-1zM263 401h1v1h-1zM263 402h1v1h-1zM264 402h1v1h-1zM265 401h1v1h-1zM265 402h1v1h-1zM266 401h1v1h-1zM266 402h1v1h-1zM267 401h1v1h-1zM267 402h1v1h-1zM268 402h1v1h-1zM268 403h1v1h-1zM268 404h1v1h-1zM269 402h1v1h-1zM269 403h1v1h-1zM270 398h1v1h-1zM270 400h1v1h-1zM270 403h1v1h-1zM271 393h1v1h-1zM271 396h1v1h-1zM272 391h1v1h-1zM272 392h1v1h-1zM273 393h1v1h-1zM273 394h1v1h-1zM274 394h1v1h-1zM274 395h1v1h-1zM275 396h1v1h-1zM276 396h1v1h-1zM277 396h1v1h-1zM277 397h1v1h-1zM278 395h1v1h-1zM278 396h1v1h-1zM278 398h1v1h-1zM279 394h1v1h-1zM279 395h1v1h-1zM280 392h1v1h-1zM280 394h1v1h-1zM281 394h1v1h-1zM282 395h1v1h-1zM282 396h1v1h-1zM283 397h1v1h-1zM284 397h1v1h-1zM285 397h1v1h-1zM286 395h1v1h-1zM286 397h1v1h-1zM286 398h1v1h-1zM287 388h1v1h-1zM287 390h1v1h-1zM288 379h1v1h-1zM288 382h1v1h-1zM288 385h1v1h-1zM289 377h1v1h-1zM290 378h1v1h-1zM290 379h1v1h-1zM290 380h1v1h-1zM291 381h1v1h-1zM291 384h1v1h-1zM292 385h1v1h-1zM292 387h1v1h-1zM292 390h1v1h-1zM293 391h1v1h-1zM293 392h1v1h-1zM294 390h1v1h-1zM295 389h1v1h-1zM296 388h1v1h-1zM296 389h1v1h-1zM297 386h1v1h-1zM297 387h1v1h-1zM297 388h1v1h-1zM298 384h1v1h-1zM298 385h1v1h-1zM298 388h1v1h-1zM299 383h1v1h-1zM299 384h1v1h-1zM300 382h1v1h-1zM300 383h1v1h-1zM301 383h1v1h-1zM301 384h1v1h-1zM302 383h1v1h-1zM302 384h1v1h-1zM303 384h1v1h-1zM303 387h1v1h-1zM304 389h1v1h-1zM305 388h1v1h-1zM305 389h1v1h-1zM306 388h1v1h-1zM307 389h1v1h-1zM308 389h1v1h-1zM308 390h1v1h-1zM308 392h1v1h-1zM309 391h1v1h-1zM309 392h1v1h-1zM309 393h1v1h-1zM310 393h1v1h-1zM310 394h1v1h-1zM311 395h1v1h-1zM311 396h1v1h-1zM312 397h1v1h-1zM312 398h1v1h-1zM313 397h1v1h-1zM314 392h1v1h-1zM315 392h1v1h-1zM316 392h1v1h-1zM317 393h1v1h-1zM318 393h1v1h-1zM318 395h1v1h-1zM318 397h1v1h-1zM319 396h1v1h-1zM319 398h1v1h-1zM320 396h1v1h-1zM321 395h1v1h-1zM321 396h1v1h-1zM322 394h1v1h-1zM322 397h1v1h-1zM323 398h1v1h-1zM324 398h1v1h-1zM324 399h1v1h-1zM325 401h1v1h-1zM325 402h1v1h-1zM326 403h1v1h-1zM326 404h1v1h-1zM327 404h1v1h-1zM327 405h1v1h-1zM328 405h1v1h-1zM328 407h1v1h-1zM329 404h1v1h-1zM329 405h1v1h-1zM330 404h1v1h-1zM331 404h1v1h-1zM331 405h1v1h-1zM332 404h1v1h-1zM332 405h1v1h-1zM333 405h1v1h-1zM334 406h1v1h-1zM335 405h1v1h-1zM336 404h1v1h-1zM336 405h1v1h-1zM337 403h1v1h-1zM337 404h1v1h-1zM338 403h1v1h-1zM338 405h1v1h-1zM339 401h1v1h-1zM339 402h1v1h-1zM340 401h1v1h-1zM341 402h1v1h-1zM342 401h1v1h-1zM342 402h1v1h-1zM343 399h1v1h-1zM344 396h1v1h-1zM344 397h1v1h-1zM344 398h1v1h-1zM345 394h1v1h-1zM346 391h1v1h-1zM346 392h1v1h-1zM347 391h1v1h-1zM347 392h1v1h-1zM348 391h1v1h-1zM348 394h1v1h-1zM349 391h1v1h-1zM350 390h1v1h-1zM350 391h1v1h-1zM351 390h1v1h-1zM352 389h1v1h-1zM353 389h1v1h-1zM354 388h1v1h-1zM355 387h1v1h-1zM356 387h1v1h-1zM357 386h1v1h-1zM358 385h1v1h-1zM358 386h1v1h-1zM358 387h1v1h-1zM358 389h1v1h-1zM359 385h1v1h-1zM359 386h1v1h-1zM360 385h1v1h-1zM361 384h1v1h-1zM362 385h1v1h-1zM363 385h1v1h-1zM363 386h1v1h-1zM364 384h1v1h-1zM364 385h1v1h-1zM364 386h1v1h-1zM365 385h1v1h-1zM365 386h1v1h-1zM366 384h1v1h-1zM366 385h1v1h-1zM367 384h1v1h-1zM367 385h1v1h-1zM368 384h1v1h-1zM368 385h1v1h-1zM368 387h1v1h-1zM369 384h1v1h-1zM369 385h1v1h-1zM370 384h1v1h-1zM370 385h1v1h-1zM371 385h1v1h-1zM371 386h1v1h-1zM372 386h1v1h-1zM372 387h1v1h-1zM373 384h1v1h-1zM373 385h1v1h-1zM374 383h1v1h-1zM374 384h1v1h-1zM375 381h1v1h-1zM375 382h1v1h-1zM375 383h1v1h-1zM376 379h1v1h-1zM376 381h1v1h-1zM377 378h1v1h-1zM377 379h1v1h-1zM378 376h1v1h-1zM378 377h1v1h-1zM378 379h1v1h-1zM379 376h1v1h-1zM380 376h1v1h-1zM381 375h1v1h-1zM381 376h1v1h-1zM382 375h1v1h-1zM383 375h1v1h-1zM384 374h1v1h-1zM384 375h1v1h-1zM385 372h1v1h-1zM386 372h1v1h-1zM386 373h1v1h-1zM387 374h1v1h-1zM388 375h1v1h-1zM388 376h1v1h-1zM388 379h1v1h-1zM389 377h1v1h-1zM390 378h1v1h-1zM391 378h1v1h-1zM391 379h1v1h-1zM392 378h1v1h-1zM392 379h1v1h-1zM393 380h1v1h-1zM394 380h1v1h-1zM395 380h1v1h-1zM396 380h1v1h-1zM397 380h1v1h-1zM398 380h1v1h-1zM398 381h1v1h-1zM399 381h1v1h-1zM399 382h1v1h-1zM399 383h1v1h-1zM400 381h1v1h-1zM400 382h1v1h-1zM401 382h1v1h-1zM401 383h1v1h-1zM401 384h1v1h-1zM402 386h1v1h-1zM402 387h1v1h-1zM403 385h1v1h-1zM403 386h1v1h-1zM404 384h1v1h-1zM404 385h1v1h-1zM405 383h1v1h-1zM406 382h1v1h-1zM406 383h1v1h-1zM407 383h1v1h-1zM408 383h1v1h-1zM408 384h1v1h-1zM409 383h1v1h-1zM409 385h1v1h-1zM410 382h1v1h-1zM410 383h1v1h-1zM411 382h1v1h-1zM412 381h1v1h-1zM412 382h1v1h-1zM413 381h1v1h-1zM414 378h1v1h-1zM414 380h1v1h-1zM414 381h1v1h-1zM415 377h1v1h-1zM415 378h1v1h-1zM416 375h1v1h-1zM416 376h1v1h-1zM416 377h1v1h-1zM417 374h1v1h-1zM418 372h1v1h-1zM418 373h1v1h-1zM419 372h1v1h-1zM419 376h1v1h-1zM420 371h1v1h-1zM420 372h1v1h-1zM421 371h1v1h-1zM422 371h1v1h-1zM423 371h1v1h-1zM424 371h1v1h-1zM425 372h1v1h-1zM426 372h1v1h-1zM426 373h1v1h-1zM427 373h1v1h-1zM428 373h1v1h-1zM429 373h1v1h-1zM429 376h1v1h-1zM430 374h1v1h-1zM431 373h1v1h-1zM431 374h1v1h-1zM432 374h1v1h-1zM432 375h1v1h-1zM433 374h1v1h-1zM433 375h1v1h-1zM434 374h1v1h-1zM434 375h1v1h-1zM435 375h1v1h-1zM435 376h1v1h-1zM436 375h1v1h-1zM436 376h1v1h-1zM437 376h1v1h-1zM437 377h1v1h-1zM438 377h1v1h-1zM439 377h1v1h-1zM439 378h1v1h-1zM439 381h1v1h-1zM440 378h1v1h-1zM440 381h1v1h-1zM441 383h1v1h-1zM441 384h1v1h-1zM442 382h1v1h-1zM442 384h1v1h-1zM443 382h1v1h-1zM444 381h1v1h-1zM445 380h1v1h-1zM445 381h1v1h-1zM446 380h1v1h-1zM447 379h1v1h-1zM447 380h1v1h-1zM448 378h1v1h-1zM448 379h1v1h-1zM449 378h1v1h-1zM449 381h1v1h-1zM450 377h1v1h-1zM451 375h1v1h-1zM451 376h1v1h-1zM451 377h1v1h-1zM452 373h1v1h-1zM452 374h1v1h-1zM453 372h1v1h-1zM454 365h1v1h-1zM454 368h1v1h-1zM454 370h1v1h-1zM455 360h1v1h-1zM455 363h1v1h-1zM456 356h1v1h-1zM456 358h1v1h-1zM457 359h1v1h-1zM457 360h1v1h-1zM458 361h1v1h-1zM458 362h1v1h-1zM459 363h1v1h-1zM459 366h1v1h-1zM460 364h1v1h-1zM460 365h1v1h-1zM461 365h1v1h-1zM462 365h1v1h-1zM462 366h1v1h-1zM463 367h1v1h-1zM464 367h1v1h-1zM464 368h1v1h-1zM465 368h1v1h-1zM465 369h1v1h-1zM466 369h1v1h-1zM466 370h1v1h-1zM467 369h1v1h-1zM467 370h1v1h-1zM468 370h1v1h-1zM468 371h1v1h-1zM469 371h1v1h-1zM469 373h1v1h-1zM470 372h1v1h-1zM471 371h1v1h-1zM471 372h1v1h-1zM472 371h1v1h-1zM472 372h1v1h-1zM473 372h1v1h-1zM474 371h1v1h-1zM474 372h1v1h-1zM475 371h1v1h-1zM475 372h1v1h-1zM476 371h1v1h-1zM477 371h1v1h-1zM477 372h1v1h-1zM478 372h1v1h-1zM479 371h1v1h-1zM479 372h1v1h-1zM479 373h1v1h-1zM479 374h1v1h-1zM480 372h1v1h-1zM480 373h1v1h-1zM481 368h1v1h-1zM481 370h1v1h-1zM481 373h1v1h-1zM482 362h1v1h-1zM482 364h1v1h-1zM483 355h1v1h-1zM483 359h1v1h-1zM484 353h1v1h-1zM484 354h1v1h-1zM485 356h1v1h-1zM486 356h1v1h-1zM486 357h1v1h-1zM487 358h1v1h-1zM488 358h1v1h-1zM489 357h1v1h-1zM489 361h1v1h-1zM490 356h1v1h-1zM490 358h1v1h-1zM491 357h1v1h-1zM491 358h1v1h-1zM492 357h1v1h-1zM492 358h1v1h-1zM493 356h1v1h-1zM493 357h1v1h-1zM494 355h1v1h-1zM494 357h1v1h-1zM495 356h1v1h-1zM496 356h1v1h-1zM497 355h1v1h-1zM497 356h1v1h-1zM498 355h1v1h-1zM499 355h1v1h-1zM499 356h1v1h-1zM499 358h1v1h-1zM500 355h1v1h-1zM500 356h1v1h-1zM501 355h1v1h-1zM501 356h1v1h-1zM502 356h1v1h-1zM502 357h1v1h-1zM503 350h1v1h-1zM503 353h1v1h-1zM503 356h1v1h-1zM504 345h1v1h-1zM504 347h1v1h-1zM505 341h1v1h-1zM505 342h1v1h-1zM506 343h1v1h-1zM507 344h1v1h-1zM507 345h1v1h-1zM508 345h1v1h-1zM508 346h1v1h-1zM509 347h1v1h-1zM509 350h1v1h-1zM510 347h1v1h-1zM510 348h1v1h-1zM511 348h1v1h-1zM512 348h1v1h-1zM512 349h1v1h-1zM513 349h1v1h-1zM514 349h1v1h-1zM514 350h1v1h-1zM515 350h1v1h-1zM515 351h1v1h-1zM516 350h1v1h-1zM517 350h1v1h-1zM517 351h1v1h-1zM518 351h1v1h-1zM518 352h1v1h-1zM519 351h1v1h-1zM519 354h1v1h-1zM520 352h1v1h-1zM521 352h1v1h-1zM521 353h1v1h-1zM522 352h1v1h-1zM523 352h1v1h-1zM523 353h1v1h-1zM524 353h1v1h-1zM525 353h1v1h-1zM525 354h1v1h-1zM526 353h1v1h-1zM527 353h1v1h-1zM528 352h1v1h-1zM529 352h1v1h-1zM529 355h1v1h-1zM530 351h1v1h-1zM530 352h1v1h-1zM531 351h1v1h-1zM531 352h1v1h-1zM532 352h1v1h-1zM533 351h1v1h-1zM534 350h1v1h-1zM535 349h1v1h-1zM536 348h1v1h-1zM536 349h1v1h-1zM537 348h1v1h-1zM538 347h1v1h-1zM539 346h1v1h-1zM539 347h1v1h-1zM539 350h1v1h-1zM540 346h1v1h-1zM540 347h1v1h-1zM541 345h1v1h-1zM542 344h1v1h-1zM542 345h1v1h-1zM543 344h1v1h-1zM544 343h1v1h-1zM544 344h1v1h-1zM545 343h1v1h-1zM546 342h1v1h-1zM546 343h1v1h-1zM547 337h1v1h-1zM547 340h1v1h-1zM547 343h1v1h-1zM548 332h1v1h-1zM548 334h1v1h-1zM549 330h1v1h-1zM549 331h1v1h-1zM549 333h1v1h-1zM550 332h1v1h-1zM551 332h1v1h-1zM551 333h1v1h-1zM552 333h1v1h-1zM552 334h1v1h-1zM553 335h1v1h-1zM554 336h1v1h-1zM555 335h1v1h-1zM555 336h1v1h-1zM555 337h1v1h-1zM556 333h1v1h-1zM556 334h1v1h-1zM557 331h1v1h-1zM557 333h1v1h-1zM558 330h1v1h-1zM558 331h1v1h-1zM559 332h1v1h-1zM560 332h1v1h-1zM560 334h1v1h-1zM560 335h1v1h-1zM561 334h1v1h-1zM561 335h1v1h-1zM562 335h1v1h-1zM562 336h1v1h-1zM563 336h1v1h-1zM564 337h1v1h-1zM564 338h1v1h-1zM565 338h1v1h-1zM565 339h1v1h-1zM566 338h1v1h-1zM566 339h1v1h-1zM567 338h1v1h-1zM567 339h1v1h-1zM568 339h1v1h-1zM568 340h1v1h-1zM569 340h1v1h-1zM569 341h1v1h-1zM570 341h1v1h-1zM570 344h1v1h-1zM571 341h1v1h-1zM571 342h1v1h-1zM572 343h1v1h-1zM573 341h1v1h-1zM573 342h1v1h-1zM573 343h1v1h-1zM574 339h1v1h-1zM575 337h1v1h-1zM575 338h1v1h-1zM576 336h1v1h-1zM577 335h1v1h-1zM577 336h1v1h-1zM578 336h1v1h-1zM578 337h1v1h-1zM579 337h1v1h-1zM579 338h1v1h-1zM580 338h1v1h-1zM580 339h1v1h-1zM580 341h1v1h-1zM581 339h1v1h-1zM582 339h1v1h-1zM582 340h1v1h-1zM583 341h1v1h-1zM583 342h1v1h-1zM584 342h1v1h-1zM585 343h1v1h-1zM586 343h1v1h-1zM586 344h1v1h-1zM587 344h1v1h-1zM587 345h1v1h-1zM588 344h1v1h-1zM588 345h1v1h-1zM589 345h1v1h-1zM590 346h1v1h-1zM590 348h1v1h-1zM591 346h1v1h-1zM591 347h1v1h-1zM592 346h1v1h-1zM593 346h1v1h-1zM594 346h1v1h-1zM595 346h1v1h-1zM596 345h1v1h-1zM596 346h1v1h-1zM597 345h1v1h-1zM597 346h1v1h-1zM597 347h1v1h-1zM598 346h1v1h-1zM598 347h1v1h-1zM599 346h1v1h-1zM600 347h1v1h-1zM600 349h1v1h-1zM601 346h1v1h-1zM601 347h1v1h-1zM602 347h1v1h-1zM603 347h1v1h-1zM604 347h1v1h-1zM605 347h1v1h-1zM606 348h1v1h-1zM607 348h1v1h-1zM608 347h1v1h-1zM608 348h1v1h-1zM609 347h1v1h-1zM609 348h1v1h-1zM610 347h1v1h-1zM610 349h1v1h-1zM611 346h1v1h-1zM611 347h1v1h-1zM612 345h1v1h-1zM612 346h1v1h-1zM613 343h1v1h-1zM613 344h1v1h-1zM613 345h1v1h-1zM614 341h1v1h-1zM614 343h1v1h-1zM615 341h1v1h-1zM616 339h1v1h-1zM617 339h1v1h-1zM617 340h1v1h-1zM618 340h1v1h-1zM619 341h1v1h-1zM620 341h1v1h-1zM620 342h1v1h-1zM620 344h1v1h-1zM621 341h1v1h-1zM621 343h1v1h-1zM622 342h1v1h-1zM623 342h1v1h-1z"/>
<path fill="#f00" d="M53 400h1v1h-1zM53 401h1v1h-1zM54 400h1v1h-1zM55 400h1v1h-1zM56 400h1v1h-1zM56 401h1v1h-1zM57 400h1v1h-1zM58 400h1v1h-1zM58 401h1v1h-1zM58 402h1v1h-1zM59 401h1v1h-1zM59 402h1v1h-1zM60 401h1v1h-1zM61 401h1v1h-1zM61 402h1v1h-1zM62 402h1v1h-1zM63 402h1v1h-1zM64 401h1v1h-1zM64 403h1v1h-1zM65 402h1v1h-1zM65 403h1v1h-1zM66 402h1v1h-1zM66 403h1v1h-1zM67 402h1v1h-1zM68 403h1v1h-1zM69 403h1v1h-1zM69 404h1v1h-1zM70 404h1v1h-1zM71 403h1v1h-1zM71 404h1v1h-1zM72 404h1v1h-1zM73 404h1v1h-1zM73 405h1v1h-1zM74 404h1v1h-1zM74 405h1v1h-1zM75 404h1v1h-1zM76 404h1v1h-1zM77 404h1v1h-1zM78 404h1v1h-1zM79 404h1v1h-1zM80 403h1v1h-1zM80 404h1v1h-1zM81 403h1v1h-1zM82 403h1v1h-1zM83 402h1v1h-1zM83 403h1v1h-1zM84 402h1v1h-1zM84 403h1v1h-1zM85 401h1v1h-1zM85 402h1v1h-1zM86 401h1v1h-1zM86 402h1v1h-1zM87 400h1v1h-1zM87 401h1v1h-1zM88 363h1v1h-1zM88 382h1v1h-1zM88 395h1v1h-1zM89 310h1v1h-1zM89 322h1v1h-1zM89 340h1v1h-1zM90 305h1v1h-1zM91 308h1v1h-1zM91 313h1v1h-1zM91 320h1v1h-1zM92 327h1v1h-1zM92 332h1v1h-1zM93 338h1v1h-1zM93 343h1v1h-1zM93 348h1v1h-1zM94 354h1v1h-1zM94 360h1v1h-1zM95 365h1v1h-1zM96 371h1v1h-1zM97 381h1v1h-1zM98 388h1v1h-1zM98 391h1v1h-1zM98 392h1v1h-1zM99 392h1v1h-1zM99 393h1v1h-1zM100 393h1v1h-1zM100 394h1v1h-1zM100 395h1v1h-1zM101 396h1v1h-1zM102 397h1v1h-1zM102 399h1v1h-1zM103 399h1v1h-1zM103 400h1v1h-1zM104 400h1v1h-1zM104 401h1v1h-1zM105 401h1v1h-1zM105 402h1v1h-1zM106 402h1v1h-1zM107 401h1v1h-1zM107 402h1v1h-1zM108 400h1v1h-1zM108 401h1v1h-1zM109 400h1v1h-1zM110 400h1v1h-1zM111 400h1v1h-1zM111 401h1v1h-1zM112 400h1v1h-1zM112 401h1v1h-1zM112 402h1v1h-1zM113 400h1v1h-1zM114 400h1v1h-1zM114 401h1v1h-1zM115 400h1v1h-1zM116 399h1v1h-1zM116 400h1v1h-1zM116 401h1v1h-1zM117 399h1v1h-1zM117 400h1v1h-1zM118 399h1v1h-1zM119 399h1v1h-1zM119 400h1v1h-1zM120 400h1v1h-1zM120 401h1v1h-1zM121 400h1v1h-1zM121 401h1v1h-1zM122 401h1v1h-1zM122 402h1v1h-1zM123 402h1v1h-1zM124 402h1v1h-1zM124 403h1v1h-1zM125 402h1v1h-1zM126 403h1v1h-1zM127 404h1v1h-1zM128 403h1v1h-1zM128 404h1v1h-1zM129 404h1v1h-1zM130 404h1v1h-1zM131 404h1v1h-1zM131 405h1v1h-1zM132 404h1v1h-1zM132 405h1v1h-1zM133 404h1v1h-1zM134 404h1v1h-1zM134 405h1v1h-1zM135 403h1v1h-1zM135 404h1v1h-1zM136 403h1v1h-1zM137 402h1v1h-1zM138 401h1v1h-1zM138 402h1v1h-1zM139 401h1v1h-1zM139 402h1v1h-1zM140 401h1v1h-1zM140 402h1v1h-1zM141 400h1v1h-1zM142 400h1v1h-1zM142 401h1v1h-1zM143 399h1v1h-1zM144 399h1v1h-1zM145 399h1v1h-1zM146 400h1v1h-1zM147 401h1v1h-1zM147 402h1v1h-1zM148 401h1v1h-1zM148 403h1v1h-1zM149 402h1v1h-1zM149 403h1v1h-1zM150 403h1v1h-1zM151 404h1v1h-1zM152 405h1v1h-1zM153 405h1v1h-1zM154 405h1v1h-1zM155 404h1v1h-1zM156 403h1v1h-1zM156 404h1v1h-1zM157 402h1v1h-1zM157 403h1v1h-1zM158 402h1v1h-1zM159 401h1v1h-1zM160 399h1v1h-1zM160 400h1v1h-1zM161 398h1v1h-1zM161 399h1v1h-1zM162 396h1v1h-1zM162 398h1v1h-1zM163 396h1v1h-1zM164 395h1v1h-1zM164 396h1v1h-1zM165 396h1v1h-1zM166 392h1v1h-1zM166 394h1v1h-1zM166 397h1v1h-1zM167 389h1v1h-1zM167 390h1v1h-1zM168 384h1v1h-1zM168 386h1v1h-1zM169 382h1v1h-1zM169 385h1v1h-1zM170 386h1v1h-1zM170 389h1v1h-1zM171 389h1v1h-1zM171 391h1v1h-1zM171 393h1v1h-1zM172 394h1v1h-1zM172 395h1v1h-1zM173 397h1v1h-1zM174 396h1v1h-1zM175 396h1v1h-1zM176 390h1v1h-1zM176 393h1v1h-1zM176 395h1v1h-1zM177 384h1v1h-1zM177 387h1v1h-1zM178 385h1v1h-1zM178 386h1v1h-1zM178 387h1v1h-1zM179 387h1v1h-1zM179 388h1v1h-1zM180 389h1v1h-1zM180 391h1v1h-1zM180 392h1v1h-1zM181 394h1v1h-1zM181 395h1v1h-1zM182 396h1v1h-1zM182 397h1v1h-1zM183 399h1v1h-1zM183 400h1v1h-1zM184 400h1v1h-1zM185 400h1v1h-1zM186 398h1v1h-1zM186 399h1v1h-1zM186 400h1v1h-1zM187 396h1v1h-1zM188 392h1v1h-1zM188 393h1v1h-1zM189 391h1v1h-1zM190 392h1v1h-1zM190 393h1v1h-1zM190 394h1v1h-1zM191 396h1v1h-1zM191 397h1v1h-1zM192 399h1v1h-1zM192 400h1v1h-1zM193 401h1v1h-1zM193 402h1v1h-1zM194 403h1v1h-1zM194 404h1v1h-1zM195 405h1v1h-1zM196 406h1v1h-1zM197 406h1v1h-1zM198 347h1v1h-1zM198 355h1v1h-1zM198 375h1v1h-1zM199 363h1v1h-1zM199 371h1v1h-1zM199 378h1v1h-1zM200 384h1v1h-1zM200 385h1v1h-1zM200 386h1v1h-1zM201 388h1v1h-1zM201 390h1v1h-1zM202 391h1v1h-1zM202 393h1v1h-1zM203 396h1v1h-1zM204 395h1v1h-1zM204 396h1v1h-1zM204 397h1v1h-1zM205 392h1v1h-1zM205 394h1v1h-1zM206 391h1v1h-1zM206 392h1v1h-1zM207 376h1v1h-1zM207 385h1v1h-1zM207 390h1v1h-1zM208 335h1v1h-1zM208 370h1v1h-1zM209 325h1v1h-1zM209 357h1v1h-1zM210 328h1v1h-1zM210 333h1v1h-1zM211 341h1v1h-1zM211 348h1v1h-1zM212 356h1v1h-1zM212 363h1v1h-1zM212 369h1v1h-1zM213 373h1v1h-1zM213 378h1v1h-1zM214 383h1v1h-1zM214 385h1v1h-1zM214 388h1v1h-1zM215 387h1v1h-1zM215 390h1v1h-1zM216 391h1v1h-1zM216 392h1v1h-1zM217 392h1v1h-1zM217 393h1v1h-1zM218 393h1v1h-1zM219 394h1v1h-1zM219 395h1v1h-1zM220 395h1v1h-1zM221 396h1v1h-1zM221 397h1v1h-1zM222 390h1v1h-1zM222 397h1v1h-1zM223 382h1v1h-1zM223 383h1v1h-1zM223 385h1v1h-1zM224 387h1v1h-1zM224 388h1v1h-1zM225 389h1v1h-1zM225 390h1v1h-1zM226 390h1v1h-1zM226 391h1v1h-1zM227 391h1v1h-1zM227 392h1v1h-1zM228 392h1v1h-1zM228 393h1v1h-1zM229 393h1v1h-1zM229 394h1v1h-1zM229 396h1v1h-1zM230 396h1v1h-1zM230 397h1v1h-1zM231 398h1v1h-1zM231 399h1v1h-1zM232 400h1v1h-1zM232 401h1v1h-1zM233 400h1v1h-1zM233 401h1v1h-1zM234 401h1v1h-1zM235 391h1v1h-1zM235 402h1v1h-1zM236 380h1v1h-1zM236 382h1v1h-1zM236 384h1v1h-1zM237 384h1v1h-1zM237 386h1v1h-1zM238 386h1v1h-1zM238 387h1v1h-1zM238 389h1v1h-1zM239 390h1v1h-1zM240 392h1v1h-1zM240 394h1v1h-1zM241 394h1v1h-1zM241 395h1v1h-1zM242 395h1v1h-1zM243 395h1v1h-1zM243 396h1v1h-1zM244 392h1v1h-1zM244 395h1v1h-1zM245 387h1v1h-1zM245 389h1v1h-1zM246 385h1v1h-1zM246 386h1v1h-1zM247 387h1v1h-1zM247 388h1v1h-1zM248 389h1v1h-1zM248 390h1v1h-1zM249 391h1v1h-1zM249 392h1v1h-1zM250 393h1v1h-1zM250 394h1v1h-1zM251 395h1v1h-1zM251 396h1v1h-1zM252 397h1v1h-1zM252 398h1v1h-1zM253 397h1v1h-1zM253 399h1v1h-1zM254 399h1v1h-1zM254 400h1v1h-1zM255 401h1v1h-1zM256 393h1v1h-1zM256 397h1v1h-1zM257 389h1v1h-1zM257 391h1v1h-1zM258 391h1v1h-1zM258 392h1v1h-1zM259 393h1v1h-1zM259 394h1v1h-1zM260 394h1v1h-1zM260 395h1v1h-1zM260 396h1v1h-1zM261 396h1v1h-1zM261 397h1v1h-1zM262 398h1v1h-1zM262 399h1v1h-1zM263 400h1v1h-1zM263 401h1v1h-1zM264 401h1v1h-1zM264 402h1v1h-1zM265 401h1v1h-1zM266 401h1v1h-1zM267 399h1v1h-1zM267 401h1v1h-1zM268 399h1v1h-1zM268 400h1v1h-1zM269 398h1v1h-1zM269 399h1v1h-1zM270 396h1v1h-1zM270 398h1v1h-1zM270 399h1v1h-1zM271 394h1v1h-1zM271 395h1v1h-1zM272 393h1v1h-1zM272 394h1v1h-1zM273 394h1v1h-1zM273 395h1v1h-1zM274 395h1v1h-1zM274 396h1v1h-1zM274 397h1v1h-1zM275 397h1v1h-1zM275 398h1v1h-1zM276 398h1v1h-1zM276 399h1v1h-1zM277 399h1v1h-1zM278 399h1v1h-1zM279 399h1v1h-1zM280 399h1v1h-1zM281 399h1v1h-1zM281 400h1v1h-1zM282 400h1v1h-1zM283 400h1v1h-1zM283 401h1v1h-1zM284 401h1v1h-1zM285 401h1v1h-1zM285 402h1v1h-1zM285 403h1v1h-1zM286 401h1v1h-1zM286 402h1v1h-1zM287 396h1v1h-1zM287 398h1v1h-1zM287 400h1v1h-1zM288 392h1v1h-1zM288 394h1v1h-1zM289 387h1v1h-1zM289 389h1v1h-1zM290 385h1v1h-1zM290 388h1v1h-1zM290 390h1v1h-1zM291 392h1v1h-1zM291 394h1v1h-1zM292 396h1v1h-1zM292 398h1v1h-1zM293 400h1v1h-1zM294 400h1v1h-1zM295 400h1v1h-1zM295 401h1v1h-1zM296 400h1v1h-1zM297 399h1v1h-1zM297 400h1v1h-1zM298 399h1v1h-1zM299 398h1v1h-1zM299 399h1v1h-1zM300 400h1v1h-1zM301 400h1v1h-1zM302 400h1v1h-1zM302 401h1v1h-1zM303 400h1v1h-1zM303 401h1v1h-1zM304 401h1v1h-1zM305 400h1v1h-1zM306 400h1v1h-1zM307 400h1v1h-1zM307 401h1v1h-1zM308 401h1v1h-1zM309 402h1v1h-1zM309 403h1v1h-1zM310 403h1v1h-1zM311 403h1v1h-1zM311 404h1v1h-1zM311 405h1v1h-1zM312 400h1v1h-1zM312 402h1v1h-1zM313 399h1v1h-1zM313 400h1v1h-1zM313 401h1v1h-1zM314 401h1v1h-1zM315 400h1v1h-1zM315 401h1v1h-1zM316 401h1v1h-1zM316 402h1v1h-1zM317 400h1v1h-1zM317 401h1v1h-1zM318 400h1v1h-1zM318 401h1v1h-1zM319 400h1v1h-1zM319 401h1v1h-1zM320 401h1v1h-1zM320 402h1v1h-1zM321 401h1v1h-1zM321 403h1v1h-1zM322 397h1v1h-1zM322 398h1v1h-1zM323 394h1v1h-1zM323 396h1v1h-1zM323 397h1v1h-1zM324 397h1v1h-1zM324 398h1v1h-1zM325 399h1v1h-1zM325 400h1v1h-1zM325 401h1v1h-1zM326 401h1v1h-1zM326 402h1v1h-1zM327 403h1v1h-1zM328 404h1v1h-1zM328 405h1v1h-1zM329 405h1v1h-1zM330 406h1v1h-1zM331 405h1v1h-1zM331 406h1v1h-1zM332 405h1v1h-1zM332 407h1v1h-1zM333 406h1v1h-1zM333 407h1v1h-1zM334 407h1v1h-1zM335 407h1v1h-1zM336 407h1v1h-1zM336 408h1v1h-1zM337 407h1v1h-1zM338 406h1v1h-1zM338 407h1v1h-1zM339 406h1v1h-1zM340 407h1v1h-1zM341 406h1v1h-1zM341 407h1v1h-1zM342 407h1v1h-1zM343 406h1v1h-1zM343 407h1v1h-1zM344 406h1v1h-1zM345 405h1v1h-1zM345 406h1v1h-1zM346 405h1v1h-1zM346 406h1v1h-1zM347 406h1v1h-1zM348 405h1v1h-1zM348 406h1v1h-1zM349 405h1v1h-1zM350 404h1v1h-1zM350 405h1v1h-1zM351 403h1v1h-1zM351 404h1v1h-1zM351 405h1v1h-1zM352 403h1v1h-1zM352 404h1v1h-1zM353 402h1v1h-1zM353 403h1v1h-1zM354 403h1v1h-1zM354 404h1v1h-1zM355 403h1v1h-1zM355 404h1v1h-1zM356 404h1v1h-1zM356 405h1v1h-1zM357 405h1v1h-1zM358 405h1v1h-1zM359 404h1v1h-1zM359 405h1v1h-1zM360 404h1v1h-1zM361 404h1v1h-1zM361 405h1v1h-1zM362 404h1v1h-1zM362 405h1v1h-1zM363 404h1v1h-1zM364 404h1v1h-1zM364 405h1v1h-1zM365 405h1v1h-1zM366 405h1v1h-1zM367 405h1v1h-1zM367 406h1v1h-1zM368 405h1v1h-1zM369 405h1v1h-1zM369 406h1v1h-1zM370 406h1v1h-1zM371 406h1v1h-1zM372 405h1v1h-1zM372 406h1v1h-1zM373 406h1v1h-1zM373 407h1v1h-1zM374 407h1v1h-1zM374 408h1v1h-1zM375 407h1v1h-1zM375 408h1v1h-1zM376 404h1v1h-1zM376 405h1v1h-1zM377 401h1v1h-1zM377 402h1v1h-1zM378 401h1v1h-1zM378 402h1v1h-1zM379 400h1v1h-1zM379 401h1v1h-1zM380 400h1v1h-1zM381 401h1v1h-1zM382 401h1v1h-1zM383 401h1v1h-1zM383 402h1v1h-1zM384 402h1v1h-1zM385 402h1v1h-1zM385 403h1v1h-1zM386 402h1v1h-1zM386 403h1v1h-1zM387 403h1v1h-1zM387 404h1v1h-1zM388 403h1v1h-1zM388 405h1v1h-1zM389 405h1v1h-1zM389 406h1v1h-1zM390 404h1v1h-1zM390 405h1v1h-1zM391 405h1v1h-1zM391 406h1v1h-1zM392 405h1v1h-1zM392 406h1v1h-1zM393 405h1v1h-1zM394 405h1v1h-1zM394 406h1v1h-1zM395 405h1v1h-1zM395 406h1v1h-1zM396 406h1v1h-1zM397 405h1v1h-1zM397 407h1v1h-1zM398 405h1v1h-1zM398 406h1v1h-1zM399 407h1v1h-1zM400 406h1v1h-1zM400 407h1v1h-1zM401 406h1v1h-1zM401 407h1v1h-1zM402 406h1v1h-1zM402 407h1v1h-1zM403 407h1v1h-1zM404 407h1v1h-1zM405 406h1v1h-1zM405 407h1v1h-1zM406 406h1v1h-1zM406 407h1v1h-1zM407 406h1v1h-1zM407 407h1v1h-1zM408 406h1v1h-1zM409 405h1v1h-1zM409 407h1v1h-1zM410 406h1v1h-1zM410 407h1v1h-1zM411 406h1v1h-1zM412 406h1v1h-1zM413 405h1v1h-1zM413 406h1v1h-1zM414 404h1v1h-1zM414 405h1v1h-1zM414 406h1v1h-1zM415 402h1v1h-1zM415 403h1v1h-1zM416 400h1v1h-1zM416 401h1v1h-1zM416 402h1v1h-1zM417 398h1v1h-1zM417 400h1v1h-1zM418 399h1v1h-1zM419 399h1v1h-1zM420 399h1v1h-1zM421 399h1v1h-1zM422 399h1v1h-1zM422 400h1v1h-1zM423 399h1v1h-1zM423 400h1v1h-1zM424 400h1v1h-1zM424 401h1v1h-1zM425 400h1v1h-1zM425 401h1v1h-1zM426 401h1v1h-1zM427 401h1v1h-1zM427 402h1v1h-1zM428 402h1v1h-1zM429 402h1v1h-1zM430 402h1v1h-1zM430 403h1v1h-1zM431 402h1v1h-1zM431 403h1v1h-1zM432 402h1v1h-1zM432 403h1v1h-1zM433 403h1v1h-1zM434 402h1v1h-1zM435 403h1v1h-1zM436 404h1v1h-1zM437 403h1v1h-1zM437 404h1v1h-1zM438 404h1v1h-1zM439 404h1v1h-1zM439 405h1v1h-1zM440 405h1v1h-1zM441 404h1v1h-1zM441 405h1v1h-1zM442 404h1v1h-1zM442 405h1v1h-1zM443 404h1v1h-1zM443 405h1v1h-1zM444 404h1v1h-1zM445 403h1v1h-1zM445 404h1v1h-1zM446 403h1v1h-1zM447 402h1v1h-1zM448 401h1v1h-1zM448 402h1v1h-1zM449 400h1v1h-1zM449 402h1v1h-1zM450 400h1v1h-1zM450 401h1v1h-1zM451 400h1v1h-1zM452 399h1v1h-1zM453 398h1v1h-1zM453 399h1v1h-1zM454 390h1v1h-1zM454 393h1v1h-1zM454 398h1v1h-1zM455 380h1v1h-1zM455 385h1v1h-1zM456 376h1v1h-1zM456 378h1v1h-1zM456 380h1v1h-1zM457 383h1v1h-1zM457 384h1v1h-1zM458 386h1v1h-1zM458 388h1v1h-1zM459 389h1v1h-1zM459 391h1v1h-1zM460 392h1v1h-1zM461 394h1v1h-1zM461 395h1v1h-1zM462 395h1v1h-1zM462 396h1v1h-1zM463 397h1v1h-1zM463 398h1v1h-1zM464 398h1v1h-1zM465 399h1v1h-1zM466 400h1v1h-1zM467 401h1v1h-1zM468 401h1v1h-1zM469 401h1v1h-1zM470 400h1v1h-1zM470 401h1v1h-1zM471 400h1v1h-1zM471 401h1v1h-1zM472 400h1v1h-1zM472 401h1v1h-1zM473 400h1v1h-1zM473 401h1v1h-1zM474 400h1v1h-1zM475 399h1v1h-1zM475 400h1v1h-1zM476 399h1v1h-1zM477 399h1v1h-1zM478 399h1v1h-1zM479 398h1v1h-1zM480 398h1v1h-1zM481 392h1v1h-1zM481 395h1v1h-1zM481 398h1v1h-1zM482 385h1v1h-1zM482 388h1v1h-1zM483 382h1v1h-1zM483 383h1v1h-1zM483 384h1v1h-1zM484 384h1v1h-1zM484 386h1v1h-1zM485 387h1v1h-1zM485 389h1v1h-1zM486 390h1v1h-1zM487 390h1v1h-1zM488 390h1v1h-1zM489 390h1v1h-1zM490 390h1v1h-1zM491 390h1v1h-1zM492 389h1v1h-1zM492 390h1v1h-1zM492 391h1v1h-1zM493 390h1v1h-1zM493 391h1v1h-1zM494 390h1v1h-1zM495 389h1v1h-1zM495 390h1v1h-1zM496 390h1v1h-1zM496 391h1v1h-1zM497 391h1v1h-1zM498 391h1v1h-1zM499 391h1v1h-1zM499 392h1v1h-1zM500 391h1v1h-1zM500 392h1v1h-1zM501 392h1v1h-1zM502 384h1v1h-1zM502 388h1v1h-1zM502 391h1v1h-1zM503 376h1v1h-1zM503 380h1v1h-1zM504 372h1v1h-1zM504 373h1v1h-1zM504 375h1v1h-1zM505 376h1v1h-1zM505 377h1v1h-1zM506 377h1v1h-1zM506 379h1v1h-1zM507 380h1v1h-1zM507 381h1v1h-1zM508 381h1v1h-1zM508 382h1v1h-1zM509 382h1v1h-1zM509 383h1v1h-1zM510 384h1v1h-1zM510 385h1v1h-1zM511 385h1v1h-1zM511 386h1v1h-1zM512 385h1v1h-1zM512 386h1v1h-1zM513 385h1v1h-1zM513 387h1v1h-1zM514 387h1v1h-1zM514 388h1v1h-1zM515 387h1v1h-1zM516 387h1v1h-1zM516 388h1v1h-1zM517 388h1v1h-1zM517 389h1v1h-1zM518 389h1v1h-1zM519 388h1v1h-1zM519 389h1v1h-1zM520 388h1v1h-1zM520 389h1v1h-1zM521 388h1v1h-1zM521 389h1v1h-1zM522 389h1v1h-1zM523 389h1v1h-1zM523 390h1v1h-1zM524 390h1v1h-1zM525 389h1v1h-1zM526 388h1v1h-1zM526 389h1v1h-1zM527 389h1v1h-1zM528 389h1v1h-1zM529 388h1v1h-1zM529 389h1v1h-1zM530 389h1v1h-1zM531 387h1v1h-1zM531 388h1v1h-1zM532 387h1v1h-1zM533 385h1v1h-1zM534 383h1v1h-1zM534 384h1v1h-1zM535 383h1v1h-1zM536 382h1v1h-1zM536 383h1v1h-1zM537 383h1v1h-1zM538 383h1v1h-1zM538 384h1v1h-1zM539 383h1v1h-1zM539 384h1v1h-1zM540 383h1v1h-1zM540 384h1v1h-1zM541 383h1v1h-1zM542 382h1v1h-1zM542 383h1v1h-1zM543 382h1v1h-1zM543 383h1v1h-1zM544 381h1v1h-1zM544 382h1v1h-1zM545 381h1v1h-1zM546 381h1v1h-1zM546 382h1v1h-1zM547 369h1v1h-1zM547 382h1v1h-1zM548 357h1v1h-1zM548 359h1v1h-1zM548 360h1v1h-1zM549 360h1v1h-1zM549 362h1v1h-1zM550 363h1v1h-1zM550 366h1v1h-1zM551 366h1v1h-1zM551 367h1v1h-1zM551 369h1v1h-1zM552 369h1v1h-1zM552 371h1v1h-1zM553 371h1v1h-1zM553 372h1v1h-1zM553 374h1v1h-1zM554 374h1v1h-1zM554 376h1v1h-1zM555 375h1v1h-1zM555 376h1v1h-1zM555 377h1v1h-1zM556 372h1v1h-1zM556 373h1v1h-1zM557 368h1v1h-1zM557 370h1v1h-1zM558 368h1v1h-1zM558 369h1v1h-1zM559 370h1v1h-1zM559 371h1v1h-1zM560 372h1v1h-1zM560 373h1v1h-1zM561 374h1v1h-1zM561 375h1v1h-1zM562 376h1v1h-1zM562 377h1v1h-1zM563 378h1v1h-1zM563 379h1v1h-1zM564 380h1v1h-1zM565 381h1v1h-1zM565 382h1v1h-1zM566 381h1v1h-1zM567 382h1v1h-1zM568 381h1v1h-1zM568 382h1v1h-1zM569 382h1v1h-1zM570 382h1v1h-1zM570 383h1v1h-1zM570 384h1v1h-1zM571 383h1v1h-1zM571 385h1v1h-1zM572 384h1v1h-1zM572 385h1v1h-1zM573 383h1v1h-1zM573 385h1v1h-1zM573 386h1v1h-1zM574 382h1v1h-1zM574 383h1v1h-1zM575 378h1v1h-1zM575 379h1v1h-1zM575 381h1v1h-1zM576 376h1v1h-1zM576 377h1v1h-1zM577 375h1v1h-1zM577 376h1v1h-1zM577 377h1v1h-1zM578 378h1v1h-1zM579 379h1v1h-1zM579 380h1v1h-1zM579 382h1v1h-1zM580 381h1v1h-1zM580 382h1v1h-1zM581 383h1v1h-1zM581 384h1v1h-1zM582 384h1v1h-1zM583 385h1v1h-1zM583 386h1v1h-1zM584 385h1v1h-1zM584 386h1v1h-1zM585 387h1v1h-1zM586 387h1v1h-1zM587 387h1v1h-1zM587 388h1v1h-1zM588 388h1v1h-1zM589 388h1v1h-1zM590 388h1v1h-1zM590 389h1v1h-1zM591 389h1v1h-1zM592 389h1v1h-1zM593 389h1v1h-1zM593 390h1v1h-1zM594 390h1v1h-1zM595 389h1v1h-1zM596 389h1v1h-1zM597 389h1v1h-1zM598 390h1v1h-1zM599 389h1v1h-1zM599 390h1v1h-1zM600 390h1v1h-1zM601 390h1v1h-1zM601 391h1v1h-1zM602 390h1v1h-1zM603 390h1v1h-1zM603 391h1v1h-1zM604 390h1v1h-1zM604 391h1v1h-1zM605 391h1v1h-1zM606 390h1v1h-1zM606 391h1v1h-1zM607 390h1v1h-1zM607 391h1v1h-1zM608 391h1v1h-1zM609 390h1v1h-1zM609 391h1v1h-1zM609 392h1v1h-1zM610 390h1v1h-1zM611 389h1v1h-1zM611 390h1v1h-1zM612 388h1v1h-1zM612 389h1v1h-1zM613 386h1v1h-1zM613 387h1v1h-1zM613 388h1v1h-1zM614 383h1v1h-1zM614 384h1v1h-1zM615 381h1v1h-1zM615 382h1v1h-1zM616 381h1v1h-1zM617 381h1v1h-1zM617 383h1v1h-1zM618 383h1v1h-1zM618 385h1v1h-1zM619 385h1v1h-1zM620 386h1v1h-1zM621 387h1v1h-1zM622 387h1v1h-1zM622 388h1v1h-1zM623 388h1v1h-1z"/>
</g>
</svg></body></html>
